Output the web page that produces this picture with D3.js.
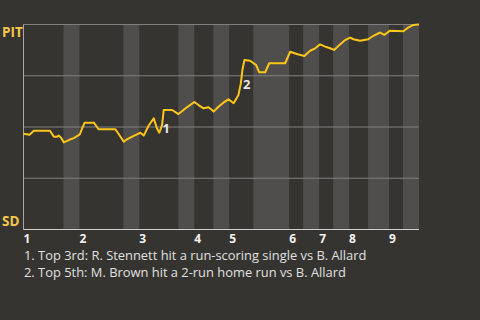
<!DOCTYPE html>
<html><head><meta charset="utf-8">
<script src="https://cdn.jsdelivr.net/npm/d3@7"></script>
<style>
html,body{margin:0;padding:0;background:#353430;}
svg{display:block;}
text{font-family:"Open Sans","Noto Sans",sans-serif;}
</style></head>
<body>
<svg id="c" width="480" height="320"></svg>
<script>
// Game progress in "events" (x), PIT win probability in % (y)
const innings = ["1","2","3","4","5","6","7","8","9"];
const topStart = [0, 14, 29, 42.75, 51.5, 66.5, 74, 81.5, 91.5];
const bottomStart = [10, 25, 38.75, 47.5, 57.5, 70, 77.5, 86.25, 95];
const gameEnd = 99;
const progress = [0,1.5,2.6,6.6,7.6,8.4,8.8,9.4,10.1,10.9,11.75,12.6,13.4,14.1,14.7,15.3,17.6,18.8,23,24,25.1,25.9,27.2,28.4,29.25,30.1,31.3,32.6,33.4,34,34.7,35.1,37.2,38.8,40.9,42.75,43.8,45.1,46.3,47.2,47.6,48.8,50.1,51.3,52.6,53.8,54.4,54.8,55.3,56.75,58.25,59,60.5,61.5,65.5,66.75,68.4,70.3,71.75,73,74.25,75.5,76.75,77.75,79.25,80.5,81.75,82.6,84.25,86.3,87.6,89.25,90.3,91.75,95.1,96.3,97.6,98.8,99];
const pitWinPct = [46.7,46.2,48.2,48.2,45.3,45.3,45.8,44.8,42.5,43.2,44.0,44.6,45.6,46.4,49.4,52.1,52.1,48.9,48.9,46.1,42.8,44.0,45.3,46.4,47.2,45.8,50.6,54.2,49.4,47.2,51.0,58.3,58.3,56.3,59.6,62.2,60.7,59.1,59.6,58.3,57.5,59.9,62.0,63.5,61.6,65.6,71.3,77.8,82.7,82.3,80.2,76.7,76.7,81.1,81.1,86.7,85.6,84.6,87.2,88.4,90.3,89.2,88.4,87.6,90.3,92.4,93.6,92.8,92.1,92.8,94.5,96.1,94.9,97.0,96.7,98.5,99.8,100,100];
const yTicks = [0, 25, 50, 75, 100];
const teamLabels = ["PIT", "SD"];
const teamValues = [100, 0];
const markerIds = ["1", "2"];
const markerX = [35.75, 55.9];
const markerY = [47, 68.5];
const notes = ["1. Top 3rd: R. Stennett hit a run-scoring single vs B. Allard",
               "2. Top 5th: M. Brown hit a 2-run home run vs B. Allard"];

const svg = d3.select("#c");
const x = d3.scaleLinear().domain([0, gameEnd]).range([23.5, 419]);
const y = d3.scaleLinear().domain([0, 100]).range([229.5, 24.5]);

// bottom-half bands
svg.append("g").selectAll("rect").data(bottomStart).join("rect")
  .attr("x", (d) => x(d))
  .attr("width", (d, i) => x(i + 1 < topStart.length ? topStart[i + 1] : gameEnd) - x(d))
  .attr("y", y(100)).attr("height", y(0) - y(100))
  .attr("fill", "#4f4e4c");

// gridlines
svg.append("g").selectAll("line").data(yTicks.filter(t => t > 0)).join("line")
  .attr("x1", x(0)).attr("x2", x(gameEnd))
  .attr("y1", d => y(d)).attr("y2", d => y(d))
  .attr("stroke", "#808080").attr("stroke-width", 1);

// axes lines
svg.append("line").attr("x1", x(0)).attr("x2", x(0)).attr("y1", y(100)).attr("y2", y(0))
  .attr("stroke", "#a8a8a8").attr("stroke-width", 1);
svg.append("line").attr("x1", x(0)).attr("x2", x(gameEnd)).attr("y1", y(0)).attr("y2", y(0))
  .attr("stroke", "#cfcfcf").attr("stroke-width", 1);

// win prob line
const line = d3.line().x((d, i) => x(progress[i])).y(d => y(d));
svg.append("path").datum(pitWinPct).attr("d", line)
  .attr("fill", "none").attr("stroke", "#ffc61a").attr("stroke-width", 2)
  .attr("stroke-linejoin", "round");

// team labels
svg.append("g").selectAll("text").data(teamLabels).join("text")
  .attr("x", 2).attr("y", (d, i) => y(teamValues[i]) + (i === 0 ? 12 : -4))
  .attr("fill", "#f5c84a").attr("font-weight", "bold").attr("font-size", 13.5)
  .text(d => d);

// inning labels
svg.append("g").selectAll("text").data(innings).join("text")
  .attr("x", (d, i) => x(topStart[i])).attr("y", 242.5)
  .attr("fill", "#f2f2f2").attr("font-weight", "bold").attr("font-size", 12)
  .text(d => d);

// event markers
svg.append("g").selectAll("text").data(markerIds).join("text")
  .attr("x", (d, i) => x(markerX[i])).attr("y", (d, i) => y(markerY[i]))
  .attr("text-anchor", "middle")
  .attr("fill", "#e6e6e6").attr("font-weight", "bold").attr("font-size", 13)
  .text(d => d);

// notes
svg.append("g").selectAll("text").data(notes).join("text")
  .attr("x", 24).attr("y", (d, i) => 259.5 + i * 17)
  .attr("fill", "#e0e0e0").attr("font-size", 12.9)
  .text(d => d);
</script>
</body></html>
